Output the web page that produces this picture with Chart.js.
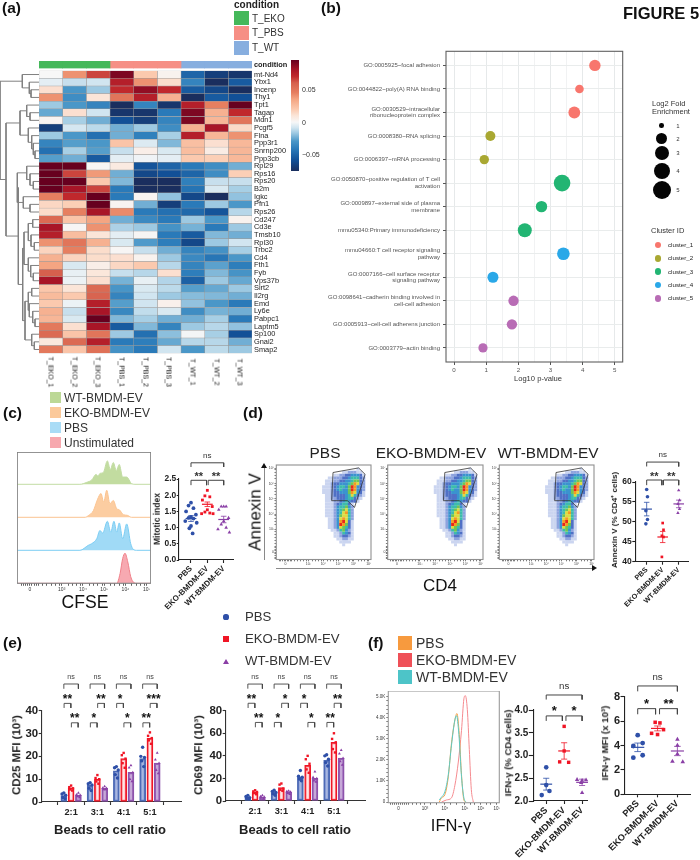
<!DOCTYPE html>
<html><head><meta charset="utf-8">
<script src="https://cdn.jsdelivr.net/npm/chart.js@4/dist/chart.umd.js"></script>
<style>
html,body{margin:0;padding:0;background:#fff}
#stage{position:relative;width:700px;height:860px;overflow:hidden;background:#fff}
canvas{position:absolute}
</style></head><body><div id="stage"></div>
<script>
/* ---------- (a) heatmap data ---------- */
const genes=['mt-Nd4','Ybx1','Incenp','Thy1','Tpt1','Tagap','Mdn1','Pcgf5','Flna','Ppp3r1','Snrnp200','Ppp3cb','Rpl29','Rps16','Rps20','B2m','Igkc','Pfn1','Rps26','Cd247','Cd3e','Tmsb10','Rpl30','Trbc2','Cd4','Fth1','Fyb','Vps37b','Sirt2','Il2rg','Emd','Ly6e','Pabpc1','Laptm5','Sp100','Gnai2','Smap2'];
const samples=['T_EKO_1','T_EKO_2','T_EKO_3','T_PBS_1','T_PBS_2','T_PBS_3','T_WT_1','T_WT_2','T_WT_3'];
const sampleCondition=[0,0,0,1,1,1,2,2,2];
const conditionNames=['T_EKO','T_PBS','T_WT'];
const conditionColors=['#45b85a','#f68f85','#87aedf'];
const heatValues=[
[0,.04,.065,.09,.02,.003,-.06,-.08,-.085],
[-.005,-.012,-.01,.075,.04,.013,-.045,-.09,-.065],
[.012,-.035,-.02,.07,.085,.07,-.065,-.075,-.09],
[.04,-.04,.01,.05,.075,.03,-.09,-.065,-.07],
[-.02,-.035,-.045,-.09,-.045,-.085,.075,.045,.095],
[-.03,.012,-.01,-.085,-.085,-.05,.09,.03,.07],
[.002,-.018,-.028,-.07,-.08,-.045,.09,.028,.05],
[-.08,-.009,-.014,-.028,-.02,-.04,.03,.08,.014],
[-.02,-.035,-.055,-.028,-.047,-.018,.075,.028,.04],
[-.045,-.033,-.035,.022,-.007,-.025,.024,.012,.027],
[-.055,-.018,-.033,-.012,.005,-.008,.025,.006,.028],
[-.033,-.028,-.065,-.005,-.002,-.005,.02,.018,.027],
[.095,.095,.001,.007,-.068,-.06,-.05,-.04,-.028],
[.095,.065,.038,-.028,-.075,-.07,-.06,-.04,.018],
[.095,.095,.02,-.025,-.09,-.09,-.047,-.012,-.012],
[.095,.08,.065,-.05,-.09,-.09,-.053,-.008,-.018],
[.045,.07,.095,-.05,.002,-.022,-.075,-.09,-.022],
[.015,.018,.095,.002,-.028,-.08,-.05,-.02,-.035],
[.013,.045,.08,.042,-.05,-.055,-.058,-.068,-.015],
[.055,.022,.035,-.028,-.042,-.05,-.02,-.035,.003],
[.08,.001,.04,-.017,-.02,-.037,-.027,-.05,-.02],
[.075,.025,.01,-.005,.001,-.05,-.065,-.025,-.028],
[.04,.05,.03,-.008,-.034,-.048,-.075,-.02,-.01],
[.016,.045,.013,.001,-.012,-.028,-.045,-.038,-.018],
[.03,.016,.013,.012,.003,-.02,-.042,-.052,-.035],
[.035,-.008,.005,.015,.02,-.015,-.045,-.032,-.048],
[.06,-.004,.009,-.012,-.015,.012,-.048,-.025,-.037],
[.08,-.003,.012,-.027,-.004,-.016,-.062,-.02,-.03],
[.021,.01,.055,-.036,-.008,-.014,-.033,-.03,-.02],
[.026,.02,.058,-.045,-.01,-.02,-.024,-.025,-.028],
[.02,-.003,.075,-.033,-.01,.004,-.022,-.035,-.05],
[.03,-.012,.08,-.043,-.013,-.008,-.04,-.027,-.028],
[.028,-.008,.095,-.025,-.018,-.028,-.028,-.018,-.05],
[.048,.012,.08,-.065,-.025,-.045,-.02,-.015,-.022],
[.055,.022,.05,-.02,-.055,-.023,-.001,-.018,-.07],
[.008,.055,.075,-.05,-.048,-.03,-.015,-.015,-.028],
[.048,.022,.052,-.038,-.05,-.01,-.035,-.014,-.02]];
const heatStops=[[-.09,'#1a2e5e'],[-.07,'#125097'],[-.05,'#2a7ab9'],[-.035,'#4a97c8'],[-.02,'#9dc9e2'],[-.01,'#d1e5f0'],[0,'#f7f7f7'],[.01,'#fbe5d8'],[.02,'#fbc9ae'],[.035,'#f4a582'],[.045,'#e67f60'],[.06,'#d6604d'],[.07,'#c0282c'],[.08,'#a81527'],[.095,'#67001f']];
/* dendrogram: [merge distance, child, child]; a number is a row index */
const geneTree=[39,[16.7,0,[9.7,1,[8,2,3]]],[33,[19,[12.3,4,[9,5,6]],[10.7,7,[7.3,8,[5.7,9,[4,10,11]]]]],[20.7,[21.7,[12.3,12,[9,13,[5.7,14,15]]],[15.7,16,[9,17,18]]],[16.3,[15,[10.7,[6.3,19,20],[8,21,[4.7,22,23]]],[10.7,24,[8.3,25,[5.7,26,27]]]],[14,[10.7,[7.3,28,29],[9.7,30,[6.3,31,[4,32,33]]]],[7.3,34,[4.7,35,36]]]]]]];

/* ---------- (b) bubble data ---------- */
const goTerms=[['GO:0005925~focal adhesion'],['GO:0044822~poly(A) RNA binding'],['GO:0030529~intracellular','ribonucleoprotein complex'],['GO:0008380~RNA splicing'],['GO:0006397~mRNA processing'],['GO:0050870~positive regulation of T cell','activation'],['GO:0009897~external side of plasma','membrane'],['mmu05340:Primary immunodeficiency'],['mmu04660:T cell receptor signaling','pathway'],['GO:0007166~cell surface receptor','signaling pathway'],['GO:0098641~cadherin binding involved in','cell-cell adhesion'],['GO:0005913~cell-cell adherens junction'],['GO:0003779~actin binding']];
const goLogP=[4.38,3.9,3.74,1.13,.94,3.36,2.72,2.2,3.4,1.21,1.85,1.8,.9];
const goEnrichment=[1.93,1.1,2.07,1.49,1.31,4.1,1.93,2.9,2.36,1.8,1.6,1.6,1.26];
const goCluster=[0,0,0,1,1,2,2,2,3,3,4,4,4];
const clusterNames=['cluster_1','cluster_2','cluster_3','cluster_4','cluster_5'];
const clusterColors=['#f8766d','#a9a832','#22b573','#2aa8e8','#b86cb5'];
const enrichmentLevels=[1,2,3,4,5];

/* ---------- (c) data ---------- */
const groupNames=['PBS','EKO-BMDM-EV','WT-BMDM-EV'];
const cfseWT=[[3.86,0],[4.18,.06],[4.41,.13],[4.62,.3],[4.71,.25],[4.8,.33],[4.96,.36],[5.15,.71],[5.29,.45],[5.43,.66],[5.57,.42],[5.71,.6],[5.87,.22],[6.06,.22],[6.29,.02],[6.45,0]];
const cfseEKO=[[4.1,0],[4.25,.05],[4.49,.2],[4.69,.55],[4.85,.72],[4.98,.46],[5.12,.82],[5.27,.41],[5.43,.51],[5.59,.26],[5.71,.23],[5.9,.08],[6.09,.06],[6.29,0]];
const cfsePBS=[[3.86,0],[4.25,.15],[4.41,.2],[4.65,.35],[4.8,.6],[4.93,.52],[5.15,.88],[5.31,.55],[5.46,.88],[5.59,.55],[5.71,.83],[5.87,.35],[6.06,.8],[6.25,.2],[6.37,.03],[6.53,0]];
const cfseUnstim=[[5.59,0],[5.75,.3],[5.87,.75],[5.98,.91],[6.11,.65],[6.25,.2],[6.4,.02],[6.53,0]];
const mitoticPBS=[1.77,1.68,1.6,1.5,1.4,1.33,1.3,1.28,1.2,1.15,1.05,.98,.82];
const mitoticEKO=[2.15,1.98,1.95,1.85,1.65,1.55,1.48,1.45,1.43,1.43];
const mitoticWT=[1.65,1.65,1.65,1.55,1.3,1.2,1.1,1,.95,.85];
const mitoticMeans=[1.28,1.72,1.25];
const mitoticSems=[.09,.07,.1];

/* ---------- (d) data ---------- */
/* density: each digit is a level, '.' is empty; rows top to bottom */
const flowFirstColumn=15;
const flowDensity=[
'.................',
'.............1...',
'........1122211..',
'.....11223344431.',
'...1122233455532.',
'..11122334456632.',
'..11233444568732.',
'.111234554698432.',
'.111234544698432.',
'.111233444687431.',
'..11233334575321.',
'..1122333455321..',
'..111223454331...',
'..1112345531.....',
'..1112455642.....',
'..1112456752.....',
'..1112457852.....',
'..1112467752.....',
'...112478752.....',
'...112489731.....',
'...112498631.....',
'...112476531.....',
'....11256421.....',
'.....1125431.....',
'.....1123321.....',
'......112211.....',
'.......1111......',
'........1........'];
const flowLevelColors=['','#cbd5f0','#8ea3de','#4f70c6','#3a93cf','#3dbcab','#72c654','#dcdc40','#f59a23','#e8281c'];
const flowGateX=[4.64,6.33,6.76,6.06,5.59,4.55,4.64];
const flowGateY=[6.72,7.02,6.6,4.44,4.88,4.88,6.72];
const logTicks=[3,4,5,6,7];
const logLabels=['10³','10⁴','10⁵','10⁶','10⁷'];
const logMinor=[1.1,1.2,1.3,1.4,1.6,1.7,1.8,1.9,2.1,2.3,2.5,2.7,2.9,3.3,3.5,3.7,3.9,4.3,4.5,4.7,4.9,5.3,5.5,5.7,5.9,6.3,6.5,6.7,6.9];
const annexinPBS=[58.1,56.3,52.8,50.6,49.5];
const annexinEKO=[49.7,48,46.5,46.2,41.2];
const annexinWT=[57.9,55.4,54.5,53.2,52.2];
const annexinMeans=[53.2,46.2,54.5];
const annexinSems=[1.7,1.4,.95];

/* ---------- (e) data ---------- */
const beadRatios=['2:1','3:1','4:1','5:1'];
const cd25Means={PBS:[2.8,7.3,13.7,19],EKO:[6.2,10,19,28],WT:[3,6,13,17]};
const cd25Points={PBS:[[4,3.5,3,2,1.5],[8.5,8,7.5,6,5],[15.5,15,14,12,10.5],[24,20,19.5,18,15.5]],
 EKO:[[7.2,6.5,6,5.5,5],[11.8,10.5,10,9,8],[21.5,20.5,19,17,15],[30.5,29,28,27,25.5]],
 WT:[[4,3.2,3,2.5,2],[6.8,6.2,6,5.5,5.5],[16,15,13,10,9],[21.5,18.5,17,14,12.5]]};
const cd69Means={PBS:[3.5,7.5,21,36],EKO:[8,12,31.5,52],WT:[3.5,8,20,38]};
const cd69Points={PBS:[[5,4,3,2.5,2],[9.5,8.5,7.5,6.5,5],[27,22,21,19.5,18],[41,40,37,34,31]],
 EKO:[[9.5,8.5,8,7,6],[15.5,14.5,11,10,9],[40,37,33,28,25],[60,55,52,46,43]],
 WT:[[5,4,3.5,3,2],[9,8.5,8,7,6],[26,21,20,18,17],[45,42,38,35,32]]};
const cd25Stars={upper:['**','**','*','***'],lower:['**','*','*','**']};
const cd69Stars={upper:['**','*','*','**'],lower:['**','*','*','**']};
const upperIsLeft=[true,false,true,false];

/* ---------- (f) data ---------- */
const ifnPBS=[[3.72,0],[3.83,.2],[4,.35],[4.17,1.2],[4.33,2.8],[4.5,3.9],[4.6,4.2],[4.72,3.2],[4.83,1.3],[4.95,.1],[5.05,0]];
const ifnWT=[[3.72,.1],[3.8,.2],[4,.5],[4.17,1.3],[4.33,2.7],[4.5,3.9],[4.58,4.1],[4.7,3.2],[4.83,1.2],[4.95,.2],[5.05,0]];
const ifnEKO=[[3.83,0],[4.08,.1],[4.33,.2],[4.5,.8],[4.67,1.9],[4.83,3.4],[4.95,4.9],[5.02,5.05],[5.12,4.4],[5.22,2.5],[5.32,.6],[5.42,0]];
const ifnPctPBS=[2.74,2.35,2.22,2.13];
const ifnPctEKO=[3.64,3.1,2.86,2.85];
const ifnPctWT=[2.47,2.46,2.45,2.4,2.18];
const ifnPctMeans=[2.37,3.1,2.41];
const ifnPctSems=[.13,.18,.07];
const ifnMfiPBS=[4.85,4.2,3.96,3.2,3];
const ifnMfiEKO=[5.9,5.85,5.3,5,4.9];
const ifnMfiWT=[4.5,4,3.3,2.7,2.65];
const ifnMfiMeans=[3.85,5.4,3.55];
const ifnMfiSems=[.35,.2,.38];

/* ---------- styling ---------- */
const COL={PBS:'#2f50a8',EKO:'#f01525',WT:'#8a3fa6'};
const FONT='"Liberation Sans", Arial, sans-serif';
Chart.defaults.font.family=FONT;
const stage=document.getElementById('stage');

function T(text,x,y,o={}){
  const d=document.createElement('div');d.textContent=text;
  const ax={l:'0',c:'-50%',r:'-100%'}[o.a||'l'];
  d.style.cssText=`position:absolute;left:${x}px;top:${y}px;white-space:nowrap;z-index:5;will-change:transform;font:${o.b?700:400} ${o.s||10}px ${FONT};line-height:1;color:${o.c||'#222'};transform:translate(${ax},-50%)${o.r?` rotate(${o.r}deg)`:''};`;
  stage.appendChild(d);return d;
}
function R(x,y,w,h,c,extra=''){
  const d=document.createElement('div');
  d.style.cssText=`position:absolute;left:${x}px;top:${y}px;width:${w}px;height:${h}px;background:${c};${extra}`;
  stage.appendChild(d);return d;
}
function dot(x,y,r,c){R(x-r,y-r,2*r,2*r,c,'border-radius:50%;');}
function tri(x,y,hw,h,c,dir){
  const d=document.createElement('div');
  const s={up:`border-left:${hw}px solid transparent;border-right:${hw}px solid transparent;border-bottom:${h}px solid ${c};left:${x-hw}px;top:${y-h/2}px;`,
           right:`border-top:${hw}px solid transparent;border-bottom:${hw}px solid transparent;border-left:${h}px solid ${c};left:${x-h/2}px;top:${y-hw}px;`}[dir||'up'];
  d.style.cssText='position:absolute;width:0;height:0;'+s;stage.appendChild(d);
}
const boxPlugin=c=>({id:'box'+c,afterDatasetsDraw(ch){const a=ch.chartArea,x=ch.ctx;x.save();x.strokeStyle=c;x.lineWidth=1.1;x.strokeRect(a.left,a.top,a.right-a.left,a.bottom-a.top);x.restore();}});
const notesPlugin=items=>({id:'notes',afterDatasetsDraw(ch){const x=ch.ctx;x.save();x.textAlign='center';x.textBaseline='middle';
  for(const n of items){x.font=`${n.b?700:400} ${n.s}px ${FONT}`;x.fillStyle=n.c||'#333';x.fillText(n.t,ch.scales.x.getPixelForValue(n.x),ch.scales.y.getPixelForValue(n.y)+(n.dy||0));}
  x.restore();}});

/* a chart whose plot area sits exactly at plot=[l,t,r,b]; m=[left,top,right,bottom] room around it */
function panel(plot,m,cfg,plugins=[]){
  const [l,t,r,b]=plot,[ML,MT,MR,MB]=m;
  const cl=Math.floor(l-ML),ct=Math.floor(t-MT),cw=Math.ceil(r+MR)-cl,chh=Math.ceil(b+MB)-ct;
  const c=document.createElement('canvas');c.width=cw;c.height=chh;
  c.style.left=cl+'px';c.style.top=ct+'px';c.style.width=cw+'px';c.style.height=chh+'px';stage.appendChild(c);
  const pad={left:l-cl,top:t-ct,right:cl+cw-r,bottom:ct+chh-b};
  const o=cfg.options=cfg.options||{};
  o.responsive=false;o.animation=false;o.devicePixelRatio=1;o.events=[];
  o.plugins=Object.assign({legend:{display:false},tooltip:{enabled:false}},o.plugins||{});
  const given=Object.assign({},pad);
  for(const id of Object.keys(o.scales||{})){
    const s=o.scales[id];if(s.display===false)continue;
    const isX=id[0]==='x',pos=s.position||(isX?'bottom':'left');
    const size=given[pos];pad[pos]=0;
    s.afterFit=a=>{if(isX)a.height=size;else a.width=size;a.paddingLeft=a.paddingRight=a.paddingTop=a.paddingBottom=0;};
  }
  o.layout={padding:pad};
  cfg.plugins=plugins;
  return new Chart(c,cfg);
}
function gaps(segs){const out=[];segs.forEach((s,i)=>{if(i)out.push({x:null,y:null});s.forEach(p=>out.push({x:p[0],y:p[1]}));});return out;}
function lineSet(segs,color,w){return {type:'scatter',showLine:true,data:gaps(segs),borderColor:color,borderWidth:w,pointRadius:0,clip:false,spanGaps:false,order:0};}
function pointSet(pts,style,r,color){return {type:'scatter',data:pts,pointStyle:style,pointRadius:r,pointBackgroundColor:color,pointBorderColor:color,pointBorderWidth:0,showLine:false,clip:false,order:0};}
const hideGrid={display:false,drawTicks:false};
function tickGrid(len,w,col){return {display:true,drawOnChartArea:false,drawTicks:true,tickLength:len,tickWidth:w,tickColor:col};}

/* ---------- (a) ---------- */
function heatColor(v){
  const st=heatStops;if(v<=st[0][0])return st[0][1];
  for(let i=1;i<st.length;i++){if(v<=st[i][0]){
    const f=(v-st[i-1][0])/(st[i][0]-st[i-1][0]),a=st[i-1][1],b=st[i][1],h=(s,k)=>parseInt(s.substr(1+2*k,2),16);
    return `rgb(${[0,1,2].map(k=>Math.round(h(a,k)+(h(b,k)-h(a,k))*f)).join(',')})`;}}
  return st[st.length-1][1];
}
const HEAT=[39,70.7,252,353.3];
panel(HEAT,[0,0,60,0],{type:'bar',data:{labels:genes,datasets:samples.map((s,c)=>({label:s,stack:'a',data:genes.map(()=>1),
  backgroundColor:genes.map((g,r)=>heatColor(heatValues[r][c])),borderColor:'#9a9a9a',borderWidth:.5,borderSkipped:false,categoryPercentage:1,barPercentage:1}))},
  options:{indexAxis:'y',scales:{x:{type:'linear',stacked:true,min:0,max:9,display:false},
   y:{type:'category',position:'right',stacked:true,grid:hideGrid,border:{display:false},ticks:{autoSkip:false,padding:2,color:'#222',font:{size:7.4}}}}}});
panel([39,61,252,68.5],[0,0,0,0],{type:'bar',data:{labels:['condition'],datasets:samples.map((s,c)=>({label:s,stack:'a',data:[1],backgroundColor:conditionColors[sampleCondition[c]],borderWidth:0,categoryPercentage:1,barPercentage:1}))},
  options:{indexAxis:'y',scales:{x:{type:'linear',stacked:true,min:0,max:9,display:false},y:{stacked:true,display:false}}}});
const dendroSegs=[];
(function walk(n){if(typeof n==='number')return {y:n+.5,d:0};const a=walk(n[1]),b=walk(n[2]);
  dendroSegs.push([[a.d,a.y],[n[0],a.y],[n[0],b.y],[b.d,b.y]]);return {y:(a.y+b.y)/2,d:n[0]};})(geneTree);
panel([0,HEAT[1],39,HEAT[3]],[0,0,0,0],{type:'scatter',data:{datasets:[lineSet(dendroSegs,'#808080',1)]},
  options:{scales:{x:{type:'linear',min:0,max:39,reverse:true,display:false},y:{type:'linear',min:0,max:37,reverse:true,display:false}}}});
samples.forEach((s,i)=>T(s,39+213/9*(i+.5),372,{a:'c',s:7,r:90,c:'#111'}));
T('condition',254,64.5,{s:7.4,b:1});
T('condition',234,4.5,{s:10,b:1});
conditionNames.forEach((n,i)=>{R(234,11+i*15,15,14,conditionColors[i]);T(n,252,18.5+i*14.6,{s:10,c:'#333'});});
const gradStops=heatStops.slice().reverse().map(s=>`${s[1]} ${((s[0]>=0?(.095-s[0])/.095*.56:.56+(-s[0])/.09*.44)*100).toFixed(1)}%`).join(',');
R(291,60,8,111,'linear-gradient(to bottom,'+gradStops+')');
T('0.05',301.5,89.3,{s:7,c:'#333'});T('0',301.5,122,{s:7,c:'#333'});T('−0.05',301.5,154,{s:7,c:'#333'});

/* ---------- (b) ---------- */
const BUB=[446,43,631,362];
const bubbleRadius=v=>4.1*Math.sqrt(v);
const xHalf=[0,.5,1,1.5,2,2.5,3,3.5,4,4.5,5];
panel(BUB,[124,0,0,24],{type:'bubble',data:{datasets:clusterNames.map((n,k)=>({label:n,backgroundColor:clusterColors[k],borderWidth:0,
   data:goLogP.map((x,i)=>({x,y:i,r:bubbleRadius(goEnrichment[i]),k:goCluster[i]})).filter(p=>p.k===k)}))},
  options:{scales:{
   x:{type:'linear',min:-.25,max:5.245,afterBuildTicks:a=>{a.ticks=xHalf.map(v=>({value:v}));},
      ticks:{autoSkip:false,maxRotation:0,minRotation:0,padding:2,color:'#555',font:{size:6.2},callback:v=>Number.isInteger(v)?v:''},
      grid:{color:c=>c.tick&&Number.isInteger(c.tick.value)?'#e6e9ea':'#f1f2f3',lineWidth:1,drawTicks:true,tickLength:3,tickColor:c=>c.tick&&Number.isInteger(c.tick.value)?'#555':'rgba(0,0,0,0)'},border:{display:false}},
   y:{type:'linear',min:-.6,max:12.6,reverse:true,afterBuildTicks:a=>{a.ticks=goTerms.map((_,i)=>({value:i}));},
      ticks:{autoSkip:false,padding:3,color:'#555',font:{size:6,lineHeight:1.1},callback:v=>goTerms[v]},
      grid:{color:'#e9ecec',lineWidth:1,drawTicks:true,tickLength:3,tickColor:'#555'},border:{display:false}}}}},[boxPlugin('#606060')]);
T('Log10 p-value',538,379,{a:'c',s:7.6,c:'#333'});
T('FIGURE 5',623,13.3,{s:16.5,b:1,c:'#111'});
T('Log2 Fold',651.5,104,{s:7.5,c:'#333'});T('Enrichment',651.5,112,{s:7.5,c:'#333'});
[[125.7,2.3],[138.7,5.5],[153.3,7],[170.7,8],[190,9]].forEach((p,i)=>{dot(661.7,p[0],p[1],'#050505');T(String(enrichmentLevels[i]),678,p[0],{a:'c',s:6,c:'#333'});});
T('Cluster ID',651.3,231,{s:7.5,c:'#333'});
clusterNames.forEach((n,i)=>{const y=245+i*13.33;dot(658,y,3.2,clusterColors[i]);T(n,668.3,y,{s:6.2,c:'#222'});});

/* ---------- panel letters ---------- */
[['(a)',1.5,7.5],['(b)',321,7.5],['(c)',2.7,413],['(d)',242.7,413],['(e)',2.7,643],['(f)',368,643]].forEach(p=>T(p[0],p[1],p[2],{s:15.5,b:1,c:'#111'}));

/* ---------- shared dot-plot ---------- */
function bracketSegs(list){return list.map(b=>[[b[0],b[3]],[b[0],b[2]],[b[1],b[2]],[b[1],b[3]]]);}
function dotPanel(s){
  const ds=[];const styles=['circle','rect','triangle'],cols=[COL.PBS,COL.EKO,COL.WT];
  s.groups.forEach((g,i)=>{
    const off=s.offsets[i];
    ds.push(pointSet(g.map((v,k)=>({x:i+1+off[k%off.length],y:v})),styles[i],s.r*(i==1?1.05:i==2?1.1:1),cols[i]));
    const m=s.means[i],e=s.sems[i],c=i+1;
    ds.push(lineSet([[[c-s.meanHalf,m],[c+s.meanHalf,m]]],cols[i],1.2));
    ds.push(lineSet([[[c,m-e],[c,m+e]],[[c-s.capHalf,m-e],[c+s.capHalf,m-e]],[[c-s.capHalf,m+e],[c+s.capHalf,m+e]]],cols[i],.8));
  });
  ds.push(lineSet(bracketSegs(s.brackets),'#444',1));
  panel(s.plot,s.margins,{type:'scatter',data:{datasets:ds},options:{scales:{
    x:{type:'linear',min:s.xMin,max:s.xMax,afterBuildTicks:a=>{a.ticks=[1,2,3].map(v=>({value:v}));},
       ticks:{autoSkip:false,minRotation:45,maxRotation:45,padding:1,color:'#222',font:{size:s.xFont,weight:'bold'},callback:v=>groupNames[v-1]},
       grid:tickGrid(3,1.1,'#222'),border:{display:true,color:'#222',width:1.1}},
    y:{type:'linear',min:s.yMin,max:s.yMax,ticks:{stepSize:s.step,padding:.5,color:'#222',font:{size:s.yFont,weight:'bold'},callback:v=>v.toFixed(s.dec)},
       grid:tickGrid(s.yTick,1.1,'#222'),border:{display:true,color:'#222',width:1.1}}}}},[notesPlugin(s.notes)]);
}
const swarmA=[0,-.15,.15,-.3,.3,0,-.15,.15,-.35,.35,0,-.1,.1];
const swarmB=[0,.05,-.05,.05,-.05];

/* ---------- (c) ---------- */
[['WT-BMDM-EV','#bcd896',397.7],['EKO-BMDM-EV','#fbc99a',412.7],['PBS','#a9dcf6',427.7],['Unstimulated','#f7a8ae',442.5]].forEach(p=>{
  R(50,p[2]-5.5,10.7,11,p[1]);T(p[0],64,p[2],{s:12,c:'#333'});});
const CF=[17.3,452.3,150.7,583.3];
const laneX=[.91,7.19];
const laneData=(pts,off)=>[{x:laneX[0],y:off},...pts.map(p=>({x:p[0],y:off+p[1]})),{x:laneX[1],y:off}];
const laneSet=(pts,off,line,fill)=>({data:laneData(pts,off),borderColor:line,backgroundColor:fill,fill:{value:off},borderWidth:1,pointRadius:0,cubicInterpolationMode:'monotone'});
const flowTicks=(majors,labels,minors,zero)=>{const m=new Map();majors.forEach((v,i)=>m.set(v,labels[i]));m.set(zero,'0');const all=[...m.keys(),...minors];
  return {afterBuildTicks:a=>{a.ticks=all.slice().sort((p,q)=>p-q).map(v=>({value:v}));},callback:v=>m.has(v)?m.get(v):''};};
const cfT=flowTicks(logTicks,logLabels,logMinor,1.5);
panel(CF,[0,0,0,14],{type:'line',data:{datasets:[
   laneSet(cfseWT,3,'#c2dca4','rgba(183,214,143,.85)'),
   laneSet(cfseEKO,2,'#fbc491','rgba(251,196,145,.85)'),
   laneSet(cfsePBS,1,'#7ccdf3','rgba(150,214,245,.9)'),
   laneSet(cfseUnstim,0,'#f0808a','rgba(246,160,168,.9)')]},
  options:{scales:{x:{type:'linear',min:laneX[0],max:laneX[1],afterBuildTicks:cfT.afterBuildTicks,
     ticks:{autoSkip:false,minRotation:0,maxRotation:0,padding:1,color:'#333',font:{size:5},callback:cfT.callback},grid:tickGrid(2.5,.7,'#222'),border:{display:false}},
   y:{type:'linear',min:0,max:3.97,display:false}}}},[boxPlugin('#808080')]);
T('CFSE',85,603,{a:'c',s:17.6,c:'#111'});
dotPanel({plot:[179,479,233,560],margins:[30,30,4,58],xMin:.266,xMax:3.57,yMin:0,yMax:2.5,step:.5,dec:1,yFont:8.4,xFont:8,r:1.9,yTick:2.3,
  groups:[mitoticPBS,mitoticEKO,mitoticWT],means:mitoticMeans,sems:mitoticSems,meanHalf:.33,capHalf:.17,offsets:[swarmA,swarmA,swarmA],
  brackets:[[1,3,3,2.87],[1,1.95,2.46,2.31],[2.05,3,2.46,2.31]],
  notes:[{x:2,y:3.21,t:'ns',s:8},{x:1.47,y:2.65,t:'**',s:11,b:1,dy:2.5},{x:2.53,y:2.65,t:'**',s:11,b:1,dy:2.5}]});
T('Mitotic index',157.3,519,{a:'c',s:8.5,b:1,r:-90});

/* ---------- (d) ---------- */
const FLOWX=[[276.3,375],[387.7,486.3],[499.3,598]];
const cell=.1895,flowXmin=.89,flowXmax=7.15,flowYmin=1.04,flowYmax=7.21;
const fT=flowTicks(logTicks,logLabels,logMinor,1.5);
const flowPts=[],flowCols=[];
flowDensity.forEach((row,r)=>[...row].forEach((ch,i)=>{if(ch==='.')return;
  flowPts.push({x:flowXmin+(flowFirstColumn+i+.5)*cell,y:flowYmax-(r+.5)*cell});flowCols.push(flowLevelColors[+ch]);}));
const gatePts=flowGateX.map((x,i)=>[x,flowGateY[i]]);
FLOWX.forEach(px=>{
  panel([px[0],461.5,px[1],559.5],[14,0,0,9],{type:'scatter',data:{datasets:[
     Object.assign(lineSet([gatePts],'#333',.8),{order:0}),
     {data:flowPts,pointStyle:'rect',pointRadius:2.15,pointBackgroundColor:flowCols,pointBorderWidth:0,order:1}]},
   options:{scales:{
    x:{type:'linear',min:flowXmin,max:flowXmax,afterBuildTicks:fT.afterBuildTicks,ticks:{autoSkip:false,minRotation:0,maxRotation:0,padding:.5,color:'#444',font:{size:3.5},callback:fT.callback},grid:tickGrid(1.8,.6,'#222'),border:{display:false}},
    y:{type:'linear',min:flowYmin,max:flowYmax,afterBuildTicks:fT.afterBuildTicks,ticks:{autoSkip:false,padding:.5,color:'#444',font:{size:3.5},callback:fT.callback},grid:tickGrid(1.8,.6,'#222'),border:{display:false}}}}},[boxPlugin('#909090')]);
});
T('PBS',325,453,{a:'c',s:15.4,c:'#222'});T('EKO-BMDM-EV',431,453,{a:'c',s:15.4,c:'#222'});T('WT-BMDM-EV',548,453,{a:'c',s:15.4,c:'#222'});
T('Annexin V',255,512,{a:'c',s:17,r:-90,c:'#111'});T('CD4',440,585,{a:'c',s:17,c:'#111'});
R(263.7,466,1,94,'#8a8a8a');tri(264.2,465.5,3,5,'#111','up');
R(276,567.6,318,1,'#8a8a8a');tri(594,568,3,5,'#111','right');
dotPanel({plot:[635.3,482,688,561.7],margins:[20,40,4,50],xMin:.29,xMax:3.58,yMin:40,yMax:60,step:5,dec:0,yFont:8.5,xFont:7.2,r:1.8,yTick:3,
  groups:[annexinPBS,annexinEKO,annexinWT],means:annexinMeans,sems:annexinSems,meanHalf:.33,capHalf:.17,offsets:[swarmB,swarmB,swarmB],
  brackets:[[1,3,65,63.9],[1,1.95,60.5,59.2],[2.05,3,60.5,59.2]],
  notes:[{x:2,y:66.8,t:'ns',s:8},{x:1.47,y:62,t:'**',s:11,b:1,dy:2.5},{x:2.53,y:62,t:'**',s:11,b:1,dy:2.5}]});
T('Annexin V (% CD4⁺ cells)',615,520,{a:'c',s:8.1,b:1,r:-90});

/* ---------- (e) ---------- */
const barOffset=.277;
const pointOff=[0,-.07,.07,-.04,.04];
function groupedBars(plot,margins,yMax,step,means,points,stars,lv,yFont){
  const ds=[];
  [['PBS','circle','rgba(110,135,205,.6)',-barOffset],['EKO','rect','rgba(255,205,205,.5)',0],['WT','triangle','rgba(160,110,190,.6)',barOffset]].forEach(a=>{
    const [k,st,fill,o]=a;
    ds.push({type:'bar',grouped:false,order:2,data:means[k].map((v,i)=>({x:i+1+o,y:v})),backgroundColor:fill,borderColor:k==='PBS'?'#4a68b4':k==='EKO'?COL.EKO:'#8d52ab',borderWidth:1.5,borderSkipped:false,barThickness:6});
    const pts=[];points[k].forEach((vals,i)=>vals.forEach((v,j)=>pts.push({x:i+1+o+pointOff[j],y:v})));
    ds.push(pointSet(pts,st,1.7,COL[k]));
  });
  const br=[],notes=[];
  beadRatios.forEach((_,i)=>{const g=i+1,L=g-barOffset,Rt=g+barOffset;
    br.push([L,Rt,lv.top,lv.topDrop]);notes.push({x:g,y:lv.ns,t:'ns',s:7.2,c:'#444'});
    const up=upperIsLeft[i]?[L,g]:[g,Rt],lo=upperIsLeft[i]?[g,Rt]:[L,g];
    br.push([up[0]+.01,up[1]-.01,lv.up,lv.upDrop]);br.push([lo[0]+.01,lo[1]-.01,lv.lo,lv.loDrop]);
    notes.push({x:(up[0]+up[1])/2,y:lv.upS,t:stars.upper[i],s:12,b:1,dy:2.8,c:'#111'});
    notes.push({x:(lo[0]+lo[1])/2,y:lv.loS,t:stars.lower[i],s:12,b:1,dy:2.8,c:'#111'});
  });
  ds.push(lineSet(bracketSegs(br),'#444',.9));
  panel(plot,margins,{type:'bar',data:{datasets:ds},options:{scales:{
    x:{type:'linear',min:.543,max:4.52,afterBuildTicks:a=>{a.ticks=[1,2,3,4].map(v=>({value:v}));},
       ticks:{autoSkip:false,minRotation:0,maxRotation:0,padding:2,color:'#222',font:{size:9.2,weight:'bold'},callback:v=>beadRatios[v-1]},
       grid:tickGrid(3,1.1,'#333'),border:{display:true,color:'#333',width:1.1}},
    y:{type:'linear',min:0,max:yMax,ticks:{stepSize:step,padding:.5,color:'#222',font:{size:yFont,weight:'bold'}},
       grid:tickGrid(3,1.1,'#333'),border:{display:true,color:'#333',width:1.1}}}}},[notesPlugin(notes)]);
}
groupedBars([41.7,710.7,181,802],[18,45,6,20],40,10,cd25Means,cd25Points,cd25Stars,
  {ns:54.9,top:51.7,topDrop:49.6,upS:46.1,up:43.2,upDrop:41.2,loS:37.7,lo:34.7,loDrop:32.7},11.4);
groupedBars([225.7,710.7,365,801],[18,45,6,20],80,20,cd69Means,cd69Points,cd69Stars,
  {ns:110,top:103.6,topDrop:99.5,upS:92.4,up:86.6,upDrop:82.4,loS:75.3,lo:69.6,loDrop:65.3},11.4);
T('CD25 MFI (10³)',17,755,{a:'c',s:11.5,b:1,r:-90});
T('CD69 MFI (10³)',199,755,{a:'c',s:11.5,b:1,r:-90});
T('Beads to cell ratio',110,829,{a:'c',s:13,b:1});
T('Beads to cell ratio',295,829,{a:'c',s:13,b:1});
T('PBS',245,617,{s:13.2,c:'#333'});T('EKO-BMDM-EV',245,639,{s:13.2,c:'#333'});T('WT-BMDM-EV',245,661,{s:13.2,c:'#333'});
dot(226,617,2.6,COL.PBS);R(223.4,636.4,5.2,5.2,COL.EKO);tri(226,661,3,5,COL.WT,'up');

/* ---------- (f) ---------- */
[['PBS','#f79a3e',643.3],['EKO-BMDM-EV','#ef5058',660],['WT-BMDM-EV','#4dc4c8',676.7]].forEach(p=>{R(398,p[2]-7,13.6,14,p[1]);T(p[0],416,p[2],{s:14,c:'#333'});});
const IF=[388.3,691,499.3,802.7];
const ifnYTicks=[0,1,2,3,4,5],ifnYLabels=['0','1.0K','2.0K','3.0K','4.0K','5.0K'];
const ifnXMajor=[3,4,5,5.8,6.6],ifT=flowTicks(ifnXMajor,logLabels,[1.3,1.4,1.5,1.6,1.8,1.9,2,2.1,2.2,2.4,2.6,2.8,3.3,3.6,4.3,4.6,5.3,5.5,6.1,6.3],1.68);
const hx=(pts,c)=>({data:pts.map(p=>({x:p[0],y:p[1]})),borderColor:c,borderWidth:1,pointRadius:0,fill:false,cubicInterpolationMode:'monotone'});
panel(IF,[22,0,0,14],{type:'line',data:{datasets:[hx(ifnWT,'#5ccbc5'),hx(ifnPBS,'#f7a04a'),hx(ifnEKO,'#f58a8f')]},options:{scales:{
   x:{type:'linear',min:1.17,max:6.72,afterBuildTicks:ifT.afterBuildTicks,ticks:{autoSkip:false,minRotation:0,maxRotation:0,padding:1,color:'#333',font:{size:4.5},callback:ifT.callback},grid:tickGrid(2,.7,'#222'),border:{display:false}},
   y:{type:'linear',min:-.03,max:5.27,afterBuildTicks:a=>{a.ticks=[0,.2,.4,.6,.8,1,1.2,1.4,1.6,1.8,2,2.2,2.4,2.6,2.8,3,3.2,3.4,3.6,3.8,4,4.2,4.4,4.6,4.8,5].map(v=>({value:v}));},
      ticks:{autoSkip:false,padding:1,color:'#333',font:{size:4.5},callback:v=>{const i=ifnYTicks.indexOf(v);return i<0?'':ifnYLabels[i];}},grid:tickGrid(2,.6,'#222'),border:{display:false}}}}},[boxPlugin('#9a9a9a')]);
T('IFN-γ',451,825,{a:'c',s:16.5,c:'#111'});
dotPanel({plot:[533.3,710,587.3,801],margins:[24,28,4,58],xMin:.28,xMax:3.29,yMin:2,yMax:4,step:.5,dec:1,yFont:10,xFont:9.2,r:2.3,yTick:4.5,
  groups:[ifnPctPBS,ifnPctEKO,ifnPctWT],means:ifnPctMeans,sems:ifnPctSems,meanHalf:.33,capHalf:.17,
  offsets:[[0,0,.18,-.25],[0,0,-.25,.25],[-.28,.22,0,-.05,0]],
  brackets:[[1,3,4.33,4.23],[1,1.9,3.87,3.76],[2.1,3,3.87,3.76]],
  notes:[{x:2,y:4.51,t:'ns',s:9.7},{x:1.45,y:4.03,t:'*',s:13,b:1,dy:3,c:'#111'},{x:2.55,y:4.03,t:'*',s:13,b:1,dy:3,c:'#111'}]});
T('IFN-γ (% CD4 cells)',507.7,753,{a:'c',s:9.5,b:1,r:-90});
dotPanel({plot:[625,696.7,690.7,794.3],margins:[18,28,4,62],xMin:.36,xMax:3.67,yMin:0,yMax:8,step:2,dec:0,yFont:11,xFont:9.2,r:2.4,yTick:4.5,
  groups:[ifnMfiPBS,ifnMfiEKO,ifnMfiWT],means:ifnMfiMeans,sems:ifnMfiSems,meanHalf:.33,capHalf:.17,
  offsets:[[0,.25,-.22,.25,-.22],[-.12,.12,.3,-.3,0],[0,0,0,-.25,.27]],
  brackets:[[1,3,8.88,8.44],[1,1.9,7.02,6.56],[2.1,3,7.02,6.56]],
  notes:[{x:2,y:9.56,t:'ns',s:9.7},{x:1.45,y:7.59,t:'*',s:13,b:1,dy:3,c:'#111'},{x:2.55,y:7.59,t:'**',s:13,b:1,dy:3,c:'#111'}]});
T('IFN-γ MFI (x 10³)',605,743,{a:'c',s:9.7,b:1,r:-90});
</script></body></html>
